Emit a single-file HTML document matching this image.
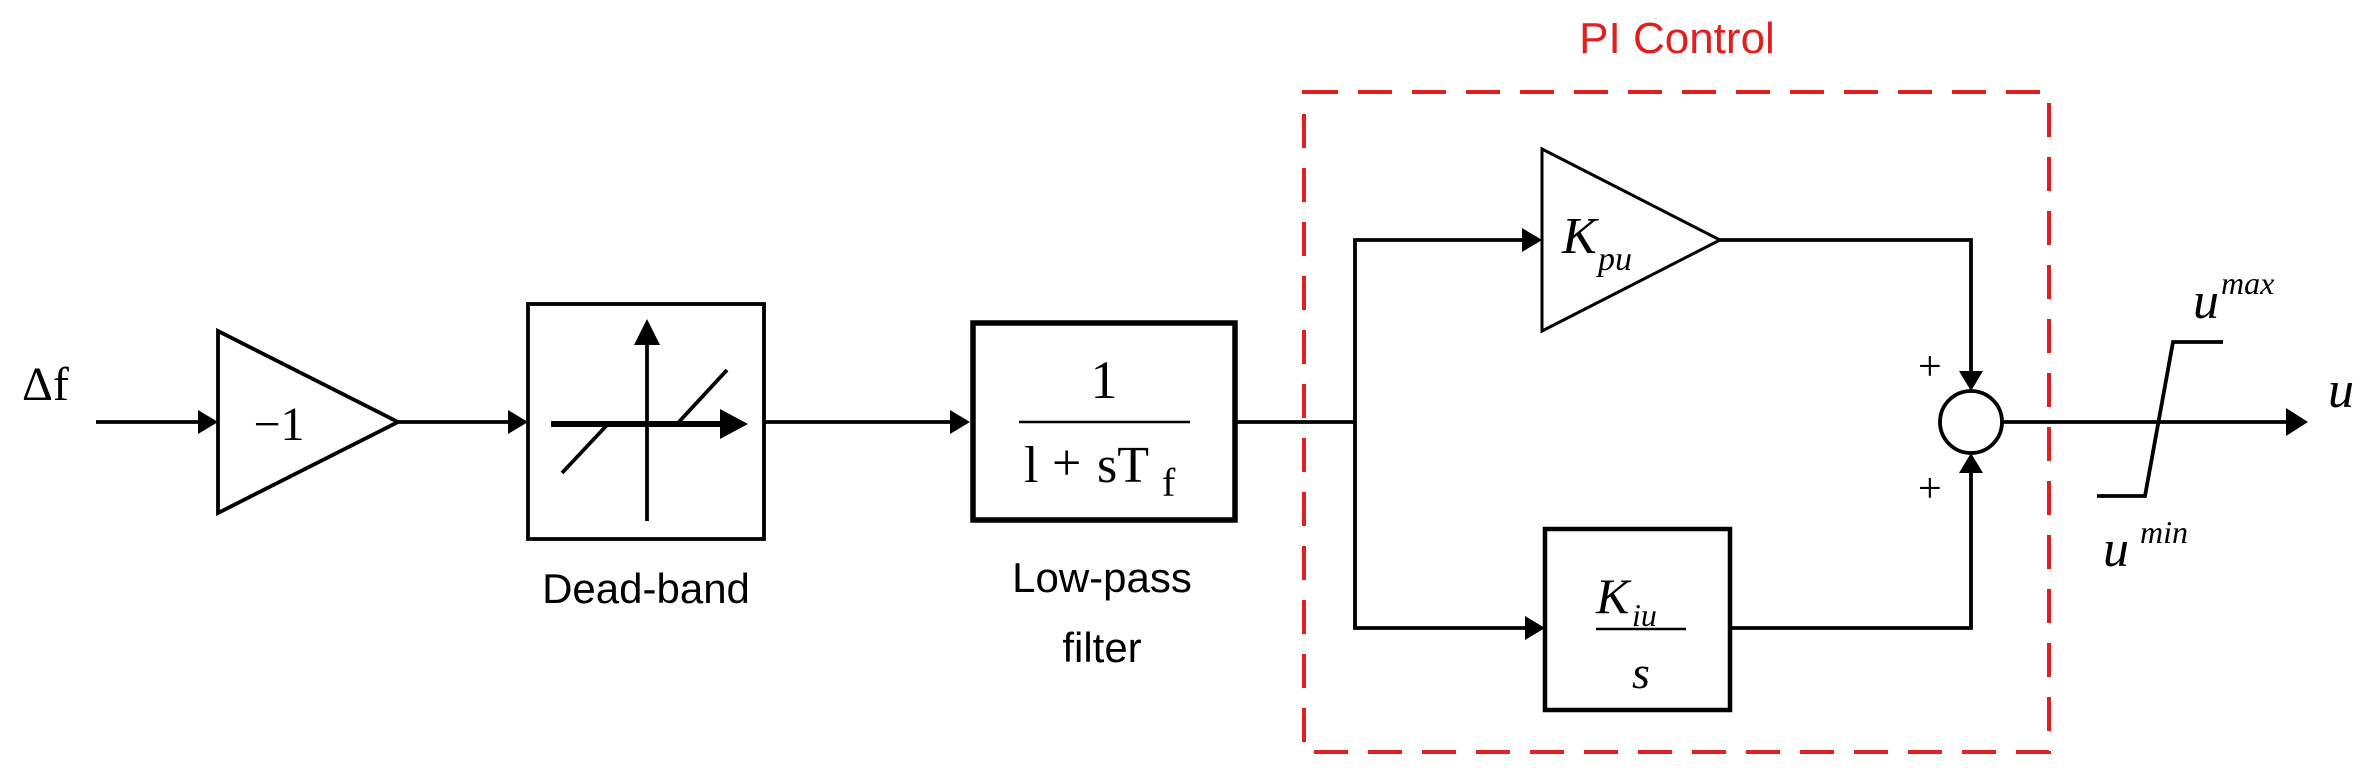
<!DOCTYPE html>
<html><head><meta charset="utf-8"><style>html,body{margin:0;padding:0;background:#fff;}svg{display:block}</style></head>
<body>
<svg width="2375" height="781" viewBox="0 0 2375 781" xmlns="http://www.w3.org/2000/svg">
<g stroke="#000" stroke-width="3.8" fill="none">
<line x1="96" y1="422" x2="200" y2="422"/><path d="M198,410 L218,422 L198,434z" fill="#000" stroke="none"/>
<path d="M218,331 L398,422 L218,513 z"/>
<line x1="398" y1="422" x2="510" y2="422"/><path d="M508,410 L528,422 L508,434z" fill="#000" stroke="none"/>
<rect x="528" y="304" width="236" height="235"/>
<line x1="647" y1="521" x2="647" y2="340"/><path d="M634,345 L647,319 L660,345z" fill="#000" stroke="none"/>
<line x1="551" y1="424" x2="725" y2="424" stroke-width="6"/><path d="M720,409 L748,424 L720,439z" fill="#000" stroke="none"/>
<line x1="562" y1="473" x2="608" y2="424"/><line x1="677" y1="424" x2="727" y2="370"/>
<line x1="764" y1="422" x2="952" y2="422"/><path d="M950,410 L970,422 L950,434z" fill="#000" stroke="none"/>
<rect x="973" y="323" width="262" height="197" stroke-width="5.5"/>
<line x1="1019" y1="422" x2="1190" y2="422" stroke-width="2.5"/>
<line x1="1235" y1="422" x2="1355" y2="422"/>
<polyline points="1355,422 1355,240 1525,240"/><path d="M1522,228 L1542,240 L1522,252z" fill="#000" stroke="none"/>
<polyline points="1355,422 1355,628 1527,628"/><path d="M1525,616 L1545,628 L1525,640z" fill="#000" stroke="none"/>
<path d="M1542,149 L1720,240 L1542,331 z" stroke-width="3"/>
<rect x="1545" y="529" width="185" height="181" stroke-width="4.5"/>
<line x1="1596" y1="629" x2="1686" y2="629" stroke-width="2.5"/>
<polyline points="1720,240 1971,240 1971,375"/><path d="M1959,371 L1971,391 L1983,371z" fill="#000" stroke="none"/>
<polyline points="1730,628 1971,628 1971,470"/><path d="M1959,473 L1971,453 L1983,473z" fill="#000" stroke="none"/>
<circle cx="1971" cy="422" r="31"/>
<line x1="2002" y1="422" x2="2290" y2="422"/><path d="M2286,408 L2308,422 L2286,436z" fill="#000" stroke="none"/>
<polyline points="2097,496 2145,496 2173,342 2223,342"/>
</g>
<rect x="1304" y="92" width="745" height="660" fill="none" stroke="#e02020" stroke-width="4" stroke-dasharray="34,20"/>
<g font-family="Liberation Serif, serif" fill="#000">
<text x="22" y="400" font-size="48">Δf</text>
<text x="279" y="440" font-size="48" text-anchor="middle">−1</text>
<text x="1104" y="398" font-size="54" text-anchor="middle">1</text>
<text x="1024" y="482" font-size="52">l</text>
<text x="1052" y="480" font-size="52">+</text>
<text x="1097" y="482" font-size="52">sT</text>
<text x="1162" y="496" font-size="40">f</text>
<text x="1562" y="253" font-size="52" font-style="italic">K</text><text x="1598" y="270" font-size="34" font-style="italic">pu</text>
<text x="1596" y="613" font-size="50" font-style="italic">K</text><text x="1632" y="626" font-size="32" font-style="italic">iu</text>
<text x="1641" y="688" font-size="46" font-style="italic" text-anchor="middle">s</text>
<text x="1918" y="380" font-size="42">+</text>
<text x="1918" y="502" font-size="42">+</text>
<text x="2193" y="318" font-size="52" font-style="italic">u</text><text x="2221" y="294" font-size="32" font-style="italic">max</text>
<text x="2103" y="566" font-size="52" font-style="italic">u</text><text x="2140" y="543" font-size="32" font-style="italic">min</text>
<text x="2328" y="407" font-size="52" font-style="italic">u</text>
</g>
<g font-family="Liberation Sans, sans-serif" font-size="42" text-anchor="middle">
<text x="646" y="603" fill="#000">Dead-band</text>
<text x="1102" y="592" fill="#000">Low-pass</text>
<text x="1102" y="662" fill="#000">filter</text>
<text x="1677" y="53" fill="#e02020" font-size="44">PI Control</text>
</g>
</svg>
</body></html>
